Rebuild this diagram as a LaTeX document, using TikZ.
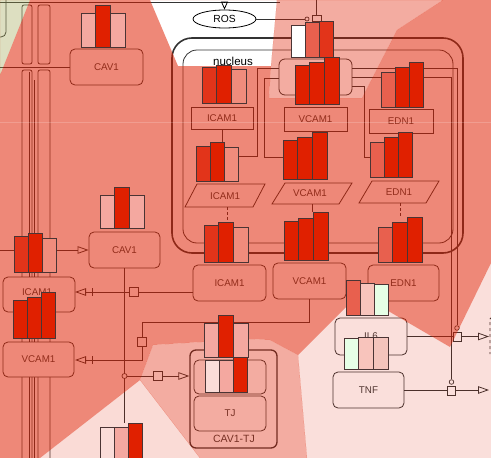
\documentclass[tikz,border=0pt]{standalone}
\usepackage{fontspec}
\setmainfont{Liberation Sans}
\usetikzlibrary{arrows.meta,shapes.geometric}
\definecolor{ovl}{HTML}{E02000}
\definecolor{beigeo}{RGB}{160,165,80}
\definecolor{lc}{HTML}{333333}
\definecolor{tc}{HTML}{3A3A3A}
\definecolor{bD}{HTML}{E02000}
\definecolor{bDb}{HTML}{E2341A}
\definecolor{bM}{HTML}{E8604E}
\definecolor{bS}{HTML}{F08C7C}
\definecolor{bP}{HTML}{F4A8A0}
\definecolor{bPb}{HTML}{F8C4BC}
\definecolor{bPc}{HTML}{F4C4BC}
\definecolor{bV}{HTML}{FADCD8}
\definecolor{bG}{HTML}{E6FFE6}
\definecolor{bedge}{HTML}{4A3434}
\newcommand\bartrio[9]{%
  \filldraw[barst, fill=#5] (#1,#4) rectangle ({#1+#3},#2);
  \filldraw[barst, fill=#7] ({#1+#3},#6) rectangle ({#1+2*#3},#2);
  \filldraw[barst, fill=#9] ({#1+2*#3},#8) rectangle ({#1+3*#3},#2);}
\begin{document}
\begin{tikzpicture}[x=1pt,y=-1pt,
  ln/.style={draw=lc, line width=0.8pt},
  box/.style={draw=lc, fill=white, line width=0.8pt, rounded corners=5pt, inner sep=0pt,
    font=\fontsize{9.8}{11}\selectfont, text=tc},
  gbox/.style={box, rounded corners=0pt},
  lbl/.style={inner sep=0pt, font=\fontsize{9.8}{11}\selectfont, text=tc},
  anch/.style={draw=lc, fill=white, line width=0.7pt, minimum size=9pt, inner sep=0pt},
  junc/.style={circle, draw=lc, fill=white, line width=0.7pt, minimum size=5pt, inner sep=0pt},
  arr/.style={ln, -{Triangle[open, length=11pt, width=7.5pt]}},
  barst/.style={draw=bedge, line width=0.9pt}]
\useasboundingbox (0,0) rectangle (491,458);
\begin{scope}
\clip (0,0) rectangle (491,458);
\fill[white] (0,0) rectangle (491,458);

% ---------- left side structures ----------
\draw[ln, rounded corners=5pt] (-30,-10) rectangle (6,37);
\draw[ln] (0,2) -- (280,2);
\draw[ln, rounded corners=2pt] (22,5) rectangle (32,64);
\draw[ln, rounded corners=2pt] (38,5) rectangle (50,64);
\draw[ln, rounded corners=2pt] (22,70) rectangle (32,470);
\draw[ln, rounded corners=2pt] (38,70) rectangle (50,470);
\draw[ln, line width=0.5pt] (29,72) -- (29,458);
\draw[ln, line width=0.5pt] (34,80) -- (34,458);

% ---------- nodes ----------
\node[box, minimum width=73pt, minimum height=36pt] (cav1t) at (106.5,67) {CAV1};
\node[box, minimum width=71pt, minimum height=36pt] (cav1m) at (124.5,250) {CAV1};
\node[box, minimum width=72pt, minimum height=35pt] (icamL) at (39,294.5) {};
\node[lbl] (icamLt) at (37,292.5) {ICAM1};
\node[box, minimum width=71pt, minimum height=35pt] (vcamL) at (38.5,359.5) {VCAM1};
\node[box, minimum width=73pt, minimum height=36pt] (icamM) at (229.5,283) {ICAM1};
\node[box, minimum width=73pt, minimum height=36pt] (vcamM) at (309.5,281) {VCAM1};
\node[box, minimum width=71pt, minimum height=36pt] (ednM) at (403.5,283) {EDN1};
\node[box, minimum width=72pt, minimum height=37pt] (il6) at (371,336.5) {IL6};
\node[box, minimum width=71pt, minimum height=36pt] (tnf) at (368.5,390) {TNF};
\node[box, line width=1.3pt, rounded corners=6pt, minimum width=87pt, minimum height=98pt] (tjgrp) at (233.5,399) {};
\node[box, minimum width=72pt, minimum height=34pt] (tjin) at (230,377) {};
\node[box, minimum width=72pt, minimum height=35pt] (tj) at (230,413.5) {TJ};
\node[lbl, font=\fontsize{10.5}{12}\selectfont] (tjlbl) at (234,438.5) {CAV1-TJ};

% nucleus
\draw[draw=lc, line width=1.6pt, rounded corners=20pt] (172,38) rectangle (463,253);
\draw[ln, rounded corners=14pt] (183,50) rectangle (453,243);
\node[inner sep=0pt, font=\fontsize{11.5}{13}\selectfont, text=black] (nuc) at (233,61.5) {nucleus};
\node[box, rounded corners=6pt, minimum width=73pt, minimum height=36pt] (vgrp) at (315.5,77) {};
\node[gbox, minimum width=62pt, minimum height=22pt] (icamG) at (222,118) {ICAM1};
\node[gbox, minimum width=63pt, minimum height=24pt] (vcamG) at (315.5,119) {VCAM1};
\node[gbox, minimum width=64pt, minimum height=24pt] (ednG) at (401,121) {EDN1};
\draw[ln, fill=white] (185,207) -- (197,184) -- (265,184) -- (253,207) -- cycle;
\node[lbl] (icamR) at (225,196) {ICAM1};
\draw[ln, fill=white] (272,204) -- (285,183) -- (352,183) -- (339,204) -- cycle;
\node[lbl] (vcamR) at (310,193.5) {VCAM1};
\draw[ln, fill=white] (359,203) -- (372,181) -- (439,181) -- (426,203) -- cycle;
\node[lbl] (ednR) at (399,192) {EDN1};

% ROS
\node[ellipse, draw=black, fill=white, line width=0.8pt, minimum width=63pt, minimum height=18pt,
  inner sep=0pt, font=\fontsize{10.3}{12}\selectfont] (ros) at (224.5,19) {ROS};
\coordinate (rosin) at (224.5,2);
\draw[ln, draw=black, -{Triangle[open, length=8pt, width=7pt]}] (rosin) -- (ros.north);
\node[junc, minimum size=4pt] (rosj) at (307,19) {};
\draw[ln] (ros.east) -- (rosj.west);
\node[anch, minimum width=9pt, minimum height=6pt] (rosq) at (316.5,18) {};
\coordinate (rosup) at (316.5,0);
\draw[ln] (rosq.north) -- (rosup);

% ---------- connectors ----------
\coordinate (lin1) at (0,67);
\draw[ln] (lin1) -- (cav1t.west);
\coordinate (lin2) at (0,250);
\coordinate (bLw) at (14,250);
\coordinate (bLe) at (57,250);
\draw[ln] (lin2) -- (bLw);
\draw[arr] (bLe) -- (cav1m.west);

% ICAM1 inhibition
\coordinate (iA) at (193,292);
\coordinate (iB) at (75,292);
\draw[arr] (iA) -- (iB);
\draw[ln] (92,288) -- (92,296);
\node[anch] (sq1) at (133.5,292) {};

% CAV1 vertical & junction
\coordinate (bbot) at (124.5,423);
\draw[ln] (cav1m.south) -- (bbot);
\node[junc] (jc) at (124.5,376) {};
\draw[arr] (jc.east) -- (tjgrp.west |- jc);
\node[anch] (sq3) at (158,376) {};

% VCAM1 inhibition
\coordinate (vK1) at (142,322);
\coordinate (vB) at (75,360);
\draw[arr] (vcamM.south) |- (vK1) |- (vB);
\draw[ln] (92,356) -- (92,364);
\node[anch] (sq2) at (142,342) {};

% nucleus internal wiring
\draw[ln] (vgrp.west |- 0,68) -- (257,68) -- (257,156) -- (239,156);
\draw[ln] (vgrp.west |- 0,78) -- (264,78) -- (264,157) -- (283,157);
\draw[ln] (vgrp.east |- 0,86) -- (364,86) -- (364,157) -- (370,157);
\node[junc, minimum size=4.6pt] (jr1) at (457,328) {};
\node[junc, minimum size=4.6pt] (jr2) at (451.5,382) {};
\draw[ln] (vgrp.east |- 0,68) -- (457,68) -- (jr1.north);
\draw[ln] (vgrp.east |- 0,77) -- (451.5,77) -- (jr2.north);
\draw[ln] (icamG.south) -- (222,142);
\draw[ln, dash pattern=on 3pt off 2pt] (227,207) -- (227,222);
\draw[ln, dash pattern=on 3pt off 2pt] (400,203) -- (400,217);
\draw[ln] (312,204) -- (312,212);

% right side
\coordinate (rA) at (489,336.5);
\coordinate (rB) at (489,390);
\draw[arr] (il6.east) -- (rA);
\draw[arr] (tnf.east) -- (rB);
\node[anch, minimum width=8pt] (sq4) at (457,336.5) {};
\node[anch, minimum width=8pt] (sq5) at (451.5,390.5) {};
\draw[ln, dashed] (492,317) -- (490,319) -- (490,354);

% ---------- colour overlay ----------
\fill[ovl, fill opacity=0.53, even odd rule] (0,0) rectangle (491,458)
  (0,0) -- (30,0) -- (0,75) -- cycle
  (150,0) -- (277,0) -- (271,66) -- (178,66) -- cycle
  (277,0) -- (443,0) -- (397,30) -- (362,98) -- (269,98) -- (271,66) -- cycle
  (140,380) -- (153,345) -- (250,339) -- (270,340) -- (298,355) -- (307,458) -- (200,458) -- cycle
  (140,380) -- (200,458) -- (40,458) -- cycle
  (298,355) -- (350,303) -- (370,292) -- (390,312) -- (450,347) -- (491,263) -- (491,458) -- (307,458) -- cycle;
\fill[beigeo, fill opacity=0.35] (0,0) -- (30,0) -- (0,75) -- cycle;
\fill[ovl, fill opacity=0.37] (277,0) -- (443,0) -- (397,30) -- (362,98) -- (269,98) -- (271,66) -- cycle;
\fill[ovl, fill opacity=0.37] (140,380) -- (153,345) -- (250,339) -- (270,340) -- (298,355) -- (307,458) -- (200,458) -- cycle;
\fill[ovl, fill opacity=0.16] (140,380) -- (200,458) -- (40,458) -- cycle;
\fill[ovl, fill opacity=0.14] (298,355) -- (350,303) -- (370,292) -- (390,312) -- (450,347) -- (491,263) -- (491,458) -- (307,458) -- cycle;
\draw[white, opacity=0.18, line width=0.8pt] (0,122) -- (491,122);

% ---------- bar charts ----------
\bartrio{81}{47}{14.7}{13}{bP}{5}{bD}{13}{bP}
\bartrio{100}{228}{14.7}{195}{bP}{187}{bD}{195}{bP}
\bartrio{14}{272}{14.3}{236}{bDb}{233}{bD}{238}{bS}
\bartrio{13}{338}{14.3}{300}{bD}{297}{bD}{292}{bD}
\bartrio{204}{262}{14.7}{225}{bDb}{222}{bD}{227}{bS}
\bartrio{284}{260}{14.7}{221}{bD}{218}{bD}{212}{bD}
\bartrio{378}{262}{14.7}{227}{bM}{222}{bD}{217}{bD}
\bartrio{346}{315}{14.3}{280}{bM}{283}{bPb}{284}{bG}
\bartrio{344}{369}{14.7}{338}{bG}{337}{bPb}{337}{bPc}
\bartrio{204}{357}{14.7}{323}{bP}{315}{bD}{323}{bP}
\bartrio{205}{392}{14.3}{360}{bV}{360}{bP}{357}{bD}
\bartrio{100}{462}{14.3}{427}{bV}{427}{bP}{423}{bD}
\bartrio{202}{103}{14.7}{67}{bDb}{65}{bD}{69}{bS}
\bartrio{196}{181}{14.3}{146}{bDb}{142}{bD}{147}{bS}
\bartrio{291}{57}{14.3}{25}{white}{22}{bM}{21}{bDb}
\bartrio{295}{104}{14.7}{65}{bD}{62}{bD}{57}{bD}
\bartrio{381}{107}{14.3}{72}{bM}{67}{bD}{62}{bD}
\bartrio{283}{179}{14.7}{140}{bD}{137}{bD}{132}{bD}
\bartrio{370}{177}{14.3}{142}{bM}{137}{bD}{132}{bD}
\end{scope}
\end{tikzpicture}
\end{document}
